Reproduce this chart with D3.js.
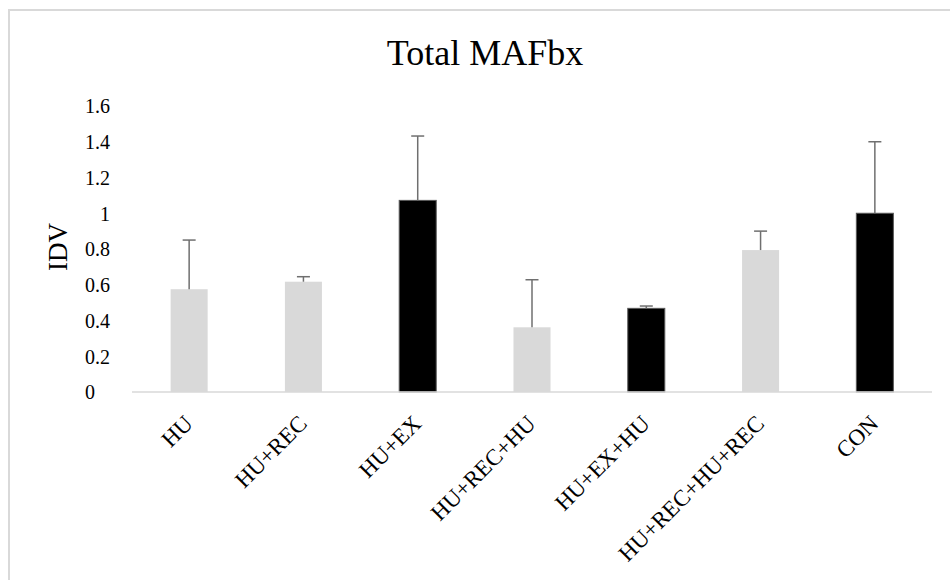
<!DOCTYPE html>
<html>
<head>
<meta charset="utf-8">
<script src="https://cdn.jsdelivr.net/npm/d3@7"></script>
<style>
  html, body { margin: 0; padding: 0; background: #fff; }
  svg { display: block; font-family: "Liberation Serif", "Times New Roman", serif; }
</style>
</head>
<body>
<svg id="chart" width="950" height="580"></svg>
<script>
// Groups, mean IDV and upper error (SD) for Total MAFbx
const groups = ["HU", "HU+REC", "HU+EX", "HU+REC+HU", "HU+EX+HU", "HU+REC+HU+REC", "CON"];
const means  = [0.575, 0.617, 1.072, 0.362, 0.468, 0.794, 1.0];
const errors = [0.275, 0.028, 0.360, 0.266, 0.013, 0.106, 0.400];
const exercise = [false, false, true, false, true, false, true];
const yTicks = [0, 0.2, 0.4, 0.6, 0.8, 1, 1.2, 1.4, 1.6];

const svg = d3.select("#chart");

// Outer frame of the chart area
svg.append("rect")
  .attr("x", 9).attr("y", 10)
  .attr("width", 1200).attr("height", 1200)
  .attr("fill", "none")
  .attr("stroke", "#d9d9d9")
  .attr("stroke-width", 2);

const x = d3.scaleBand()
  .domain(groups)
  .range([132, 932])
  .paddingInner(0.676)
  .paddingOuter(0.338);

const y = d3.scaleLinear()
  .domain([0, 1.6])
  .range([392, 106]);

// Title
svg.append("text")
  .attr("x", 485).attr("y", 65)
  .attr("text-anchor", "middle")
  .attr("font-size", 36)
  .attr("fill", "#000")
  .text("Total MAFbx");

// Y axis label
svg.append("text")
  .attr("transform", "translate(67,247) rotate(-90)")
  .attr("text-anchor", "middle")
  .attr("font-size", 27)
  .attr("fill", "#000")
  .text("IDV");

// Y axis tick labels (no axis line, no tick marks)
const yAxis = svg.append("g")
  .attr("transform", "translate(110,0)")
  .call(d3.axisLeft(y).tickValues(yTicks).tickSize(0).tickPadding(0).tickFormat(d => String(d)));
yAxis.select(".domain").remove();
yAxis.selectAll("text")
  .attr("font-family", "\"Liberation Serif\", \"Times New Roman\", serif")
  .attr("font-size", 20)
  .attr("fill", "#000")
  .attr("dy", "0.34em")
  .attr("x", d => d === 0 ? -15 : 0);

// Bars
svg.append("g").selectAll("rect")
  .data(groups)
  .join("rect")
  .attr("x", (d) => x(d))
  .attr("width", x.bandwidth())
  .attr("y", (d, i) => y(means[i]))
  .attr("height", (d, i) => y(0) - y(means[i]))
  .attr("fill", (d, i) => exercise[i] ? "#000" : "#d9d9d9")
  .attr("stroke", (d, i) => exercise[i] ? "#595959" : "none")
  .attr("stroke-width", 1);

// Upper error bars
const err = svg.append("g")
  .attr("stroke", "#6f6f6f")
  .attr("stroke-width", 1.5);
err.selectAll("line.stem")
  .data(groups)
  .join("line")
  .attr("class", "stem")
  .attr("x1", d => x(d) + x.bandwidth() / 2)
  .attr("x2", d => x(d) + x.bandwidth() / 2)
  .attr("y1", (d, i) => y(means[i]))
  .attr("y2", (d, i) => y(means[i] + errors[i]));
err.selectAll("line.cap")
  .data(groups)
  .join("line")
  .attr("class", "cap")
  .attr("x1", d => x(d) + x.bandwidth() / 2 - 6.5)
  .attr("x2", d => x(d) + x.bandwidth() / 2 + 6.5)
  .attr("y1", (d, i) => y(means[i] + errors[i]))
  .attr("y2", (d, i) => y(means[i] + errors[i]));

// X axis line
svg.append("line")
  .attr("x1", 132).attr("x2", 932)
  .attr("y1", y(0)).attr("y2", y(0))
  .attr("stroke", "#d9d9d9")
  .attr("stroke-width", 1.5);

// Rotated category labels
svg.append("g").selectAll("text")
  .data(groups)
  .join("text")
  .attr("transform", d => `translate(${x(d) + x.bandwidth() / 2 + 5},425) rotate(-45)`)
  .attr("text-anchor", "end")
  .attr("font-size", 23)
  .attr("fill", "#000")
  .text(d => d);
</script>
</body>
</html>
